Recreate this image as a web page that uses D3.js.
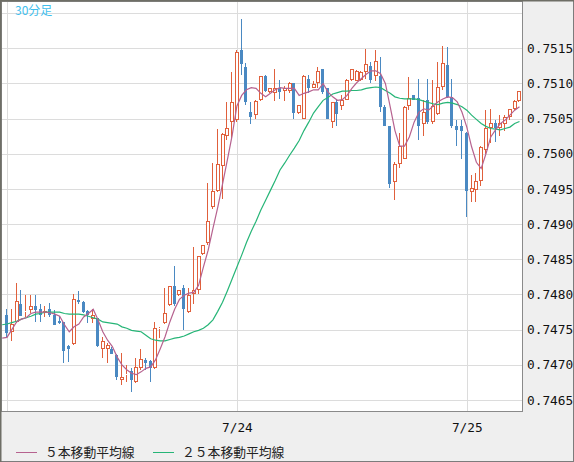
<html>
<script src="https://d3js.org/d3.v7.min.js"></script>
<body style="margin:0; background:#efefef;">
<svg width=574 height=462></svg>
<script>
// 30-minute candles, 7/23 - 7/25 (slot 1 = first full candle)
var opens = [
  0.74771, 0.74747, 0.74761, 0.74786, 0.74775, 0.74778, 0.74784, 0.74780, 0.74774, 0.74779,
  0.74771, 0.74763, 0.74761, 0.74727, 0.74729, 0.74792, 0.74790, 0.74777, 0.74765, 0.74766,
  0.74723, 0.74723, 0.74723, 0.74714, 0.74679, 0.74686, 0.74691, 0.74675, 0.74696, 0.74707,
  0.74706, 0.74695, 0.74752, 0.74759, 0.74785, 0.74812, 0.74799, 0.74809, 0.74775, 0.74801,
  0.74806, 0.74857, 0.74873, 0.74925, 0.74947, 0.74982, 0.75026, 0.75045, 0.75048, 0.75147,
  0.75123, 0.75059, 0.75055, 0.75076, 0.75111, 0.75088, 0.75086, 0.75093, 0.75089, 0.75090,
  0.75100, 0.75058, 0.75050, 0.75106, 0.75094, 0.75100, 0.75120, 0.75093, 0.75045, 0.75073,
  0.75068, 0.75077, 0.75105, 0.75104, 0.75105, 0.75117, 0.75125, 0.75110, 0.75110, 0.75067,
  0.75039, 0.74960, 0.74985, 0.74993, 0.75068, 0.75083, 0.75080, 0.75042, 0.75076, 0.75045,
  0.75057, 0.75095, 0.75126, 0.75081, 0.75040, 0.75039, 0.75030, 0.74946, 0.74949, 0.74962,
  0.75006, 0.75037, 0.75044, 0.75037, 0.75043, 0.75053, 0.75063, 0.75075];
var highs = [
  0.74779, 0.74780, 0.74817, 0.74806, 0.74799, 0.74799, 0.74799, 0.74787, 0.74783, 0.74788,
  0.74778, 0.74769, 0.74761, 0.74728, 0.74800, 0.74805, 0.74791, 0.74778, 0.74779, 0.74767,
  0.74739, 0.74731, 0.74725, 0.74716, 0.74717, 0.74700, 0.74696, 0.74709, 0.74723, 0.74709,
  0.74707, 0.74761, 0.74754, 0.74809, 0.74812, 0.74840, 0.74807, 0.74813, 0.74809, 0.74867,
  0.74855, 0.74870, 0.74959, 0.74987, 0.75035, 0.75029, 0.75074, 0.75116, 0.75147, 0.75192,
  0.75129, 0.75074, 0.75076, 0.75110, 0.75112, 0.75094, 0.75121, 0.75105, 0.75097, 0.75102,
  0.75101, 0.75070, 0.75112, 0.75112, 0.75104, 0.75123, 0.75121, 0.75094, 0.75074, 0.75078,
  0.75084, 0.75106, 0.75121, 0.75119, 0.75118, 0.75149, 0.75130, 0.75147, 0.75138, 0.75069,
  0.75040, 0.74988, 0.75029, 0.75068, 0.75109, 0.75084, 0.75107, 0.75076, 0.75107, 0.75105,
  0.75130, 0.75153, 0.75152, 0.75107, 0.75048, 0.75048, 0.75031, 0.74970, 0.74973, 0.75011,
  0.75062, 0.75063, 0.75048, 0.75055, 0.75055, 0.75064, 0.75076, 0.75090];
var lows = [
  0.74740, 0.74734, 0.74759, 0.74769, 0.74768, 0.74773, 0.74761, 0.74761, 0.74768, 0.74768,
  0.74756, 0.74758, 0.74703, 0.74704, 0.74728, 0.74787, 0.74774, 0.74759, 0.74760, 0.74726,
  0.74710, 0.74702, 0.74715, 0.74678, 0.74672, 0.74675, 0.74662, 0.74674, 0.74693, 0.74693,
  0.74676, 0.74694, 0.74738, 0.74758, 0.74784, 0.74784, 0.74798, 0.74750, 0.74773, 0.74787,
  0.74801, 0.74856, 0.74870, 0.74922, 0.74945, 0.74936, 0.75020, 0.75022, 0.75045, 0.75112,
  0.75070, 0.75042, 0.75049, 0.75075, 0.75088, 0.75086, 0.75075, 0.75078, 0.75075, 0.75086,
  0.75049, 0.75057, 0.75049, 0.75086, 0.75093, 0.75093, 0.75085, 0.75049, 0.75036, 0.75040,
  0.75062, 0.75076, 0.75104, 0.75103, 0.75103, 0.75107, 0.75100, 0.75104, 0.75059, 0.75039,
  0.74951, 0.74935, 0.74980, 0.74992, 0.75062, 0.75076, 0.75019, 0.75025, 0.75042, 0.75042,
  0.75055, 0.75091, 0.75079, 0.75037, 0.75011, 0.74993, 0.74910, 0.74932, 0.74932, 0.74954,
  0.75000, 0.75015, 0.75017, 0.75025, 0.75033, 0.75048, 0.75062, 0.75074];
var closes = [
  0.74745, 0.74758, 0.74791, 0.74770, 0.74776, 0.74783, 0.74778, 0.74771, 0.74777, 0.74771,
  0.74757, 0.74759, 0.74720, 0.74722, 0.74793, 0.74790, 0.74775, 0.74771, 0.74771, 0.74727,
  0.74734, 0.74728, 0.74716, 0.74682, 0.74683, 0.74687, 0.74679, 0.74697, 0.74708, 0.74702,
  0.74695, 0.74753, 0.74753, 0.74774, 0.74812, 0.74787, 0.74806, 0.74779, 0.74799, 0.74806,
  0.74855, 0.74870, 0.74905, 0.74947, 0.74985, 0.75028, 0.75037, 0.75074, 0.75145, 0.75128,
  0.75073, 0.75053, 0.75075, 0.75110, 0.75089, 0.75093, 0.75094, 0.75088, 0.75094, 0.75100,
  0.75058, 0.75070, 0.75111, 0.75094, 0.75099, 0.75118, 0.75088, 0.75050, 0.75073, 0.75057,
  0.75077, 0.75105, 0.75120, 0.75118, 0.75117, 0.75128, 0.75105, 0.75132, 0.75067, 0.75040,
  0.74957, 0.74985, 0.75011, 0.75067, 0.75080, 0.75077, 0.75040, 0.75060, 0.75045, 0.75068,
  0.75095, 0.75129, 0.75081, 0.75040, 0.75034, 0.75033, 0.74947, 0.74951, 0.74961, 0.75010,
  0.75037, 0.75044, 0.75037, 0.75044, 0.75053, 0.75063, 0.75075, 0.75089];

// moving averages, slot 0 .. 108
var ma5 = [
  0.74738, 0.74739, 0.74750, 0.74761, 0.74765, 0.74767, 0.74773, 0.74775, 0.74775, 0.74775, 0.74774,
  0.74772, 0.74769, 0.74757, 0.74747, 0.74754, 0.74758, 0.74768, 0.74773, 0.74779, 0.74764,
  0.74747, 0.74735, 0.74726, 0.74711, 0.74700, 0.74693, 0.74688, 0.74686, 0.74690, 0.74695,
  0.74697, 0.74707, 0.74723, 0.74740, 0.74761, 0.74779, 0.74793, 0.74799, 0.74802, 0.74803,
  0.74813, 0.74839, 0.74863, 0.74894, 0.74924, 0.74957, 0.74991, 0.75026, 0.75068, 0.75083,
  0.75091, 0.75094, 0.75093, 0.75086, 0.75081, 0.75086, 0.75091, 0.75094, 0.75093, 0.75093,
  0.75093, 0.75083, 0.75086, 0.75088, 0.75091, 0.75091, 0.75100, 0.75088, 0.75081, 0.75076,
  0.75077, 0.75083, 0.75093, 0.75101, 0.75107, 0.75113, 0.75118, 0.75118, 0.75114, 0.75100,
  0.75067, 0.75033, 0.75011, 0.75011, 0.75024, 0.75045, 0.75059, 0.75064, 0.75062, 0.75068,
  0.75074, 0.75078, 0.75081, 0.75080, 0.75074, 0.75059, 0.75038, 0.75010, 0.74988, 0.74979,
  0.75000, 0.75024, 0.75034, 0.75043, 0.75048, 0.75055, 0.75062, 0.75067];
var ma25 = [
  0.74757, 0.74758, 0.74760, 0.74762, 0.74765, 0.74767, 0.74769, 0.74772, 0.74773, 0.74775, 0.74775,
  0.74775, 0.74775, 0.74773, 0.74772, 0.74772, 0.74772, 0.74771, 0.74769, 0.74767, 0.74765,
  0.74761, 0.74760, 0.74759, 0.74758, 0.74754, 0.74752, 0.74749, 0.74748, 0.74747, 0.74742,
  0.74737, 0.74735, 0.74734, 0.74734, 0.74736, 0.74738, 0.74739, 0.74741, 0.74744, 0.74747,
  0.74749, 0.74752, 0.74757, 0.74764, 0.74776, 0.74789, 0.74805, 0.74822, 0.74839, 0.74856,
  0.74874, 0.74890, 0.74904, 0.74920, 0.74934, 0.74948, 0.74962, 0.74977, 0.74987, 0.74998,
  0.75008, 0.75019, 0.75033, 0.75045, 0.75058, 0.75067, 0.75076, 0.75080, 0.75085, 0.75087,
  0.75089, 0.75089, 0.75090, 0.75090, 0.75091, 0.75093, 0.75094, 0.75095, 0.75094, 0.75090,
  0.75086, 0.75081, 0.75079, 0.75078, 0.75078, 0.75078, 0.75077, 0.75075, 0.75073, 0.75071,
  0.75070, 0.75072, 0.75073, 0.75072, 0.75070, 0.75067, 0.75062, 0.75055, 0.75049, 0.75043,
  0.75039, 0.75036, 0.75035, 0.75034, 0.75036, 0.75038, 0.75043, 0.75046];

var gridPrices = [0.7465, 0.7470, 0.7475, 0.7480, 0.7485, 0.7490, 0.7495, 0.7500, 0.7505, 0.7510, 0.7515, 0.7520];
var priceLabels = ["0.7465", "0.7470", "0.7475", "0.7480", "0.7485", "0.7490", "0.7495", "0.7500", "0.7505", "0.7510", "0.7515"];
var daySlots = [1, 49, 97];
var dayLabels = ["", "7/24", "7/25"];
var legendNames = ["５本移動平均線", "２５本移動平均線"];

//------------------------setup------------------------//
var svg = d3.select("svg");
var plot = {left: 1, top: 1, right: 523, bottom: 412};
var upColor = "#e0603c", downColor = "#4a89c2", ma5Color = "#b6628f", ma25Color = "#26b577";
var mono = "'DejaVu Sans Mono', monospace";
var jp = "'Noto Sans CJK JP', sans-serif";

var x = d3.scaleLinear().domain([1, 97]).range([7, 466.8]);
var y = d3.scaleLinear().domain([0.7465, 0.7515]).range([400, 48.3]);

svg.append("rect").attr("x", 0.5).attr("y", 0.5).attr("width", 573).attr("height", 461)
  .attr("fill", "#efefef").attr("stroke", "#7c7c7c");
svg.append("rect").attr("x", plot.left).attr("y", plot.top)
  .attr("width", plot.right - plot.left).attr("height", plot.bottom - plot.top)
  .attr("fill", "#fff");

svg.append("clipPath").attr("id", "clip").append("rect")
  .attr("x", plot.left).attr("y", plot.top)
  .attr("width", plot.right - plot.left).attr("height", plot.bottom - plot.top);

var g = svg.append("g").attr("clip-path", "url(#clip)");

//------------------------grid------------------------//
g.append("g").selectAll("line").data(gridPrices).enter().append("line")
  .attr("x1", plot.left).attr("x2", plot.right)
  .attr("y1", function(d) { return Math.round(y(d)) + 0.5; })
  .attr("y2", function(d) { return Math.round(y(d)) + 0.5; })
  .attr("stroke", "#dcdcdc");
g.append("g").selectAll("line").data(daySlots).enter().append("line")
  .attr("y1", plot.top).attr("y2", plot.bottom)
  .attr("x1", function(d) { return Math.round(x(d)) + 0.5; })
  .attr("x2", function(d) { return Math.round(x(d)) + 0.5; })
  .attr("stroke", "#dcdcdc");

//------------------------candles------------------------//
var candles = opens.map(function(o, i) {
  return {slot: i + 1, o: o, h: highs[i], l: lows[i], c: closes[i]};
});

var cg = g.append("g").attr("shape-rendering", "crispEdges");
candles.forEach(function(d) {
  var cx = Math.round(x(d.slot));
  var up = d.c >= d.o;
  var top = Math.round(y(Math.max(d.o, d.c))), bot = Math.round(y(Math.min(d.o, d.c)));
  if (bot - top < 1) bot = top + 1;
  if (up) {
    cg.append("line").attr("x1", cx - 0.5).attr("x2", cx - 0.5)
      .attr("y1", Math.round(y(d.h))).attr("y2", top).attr("stroke", upColor);
    cg.append("line").attr("x1", cx - 0.5).attr("x2", cx - 0.5)
      .attr("y1", bot).attr("y2", Math.round(y(d.l))).attr("stroke", upColor);
    cg.append("rect").attr("x", cx - 1.5).attr("y", top + 0.5)
      .attr("width", 3).attr("height", Math.max(bot - top - 1, 0))
      .attr("fill", "#fff").attr("stroke", upColor);
  } else {
    cg.append("line").attr("x1", cx - 0.5).attr("x2", cx - 0.5)
      .attr("y1", Math.round(y(d.h))).attr("y2", Math.round(y(d.l))).attr("stroke", downColor);
    cg.append("rect").attr("x", cx - 2).attr("y", top)
      .attr("width", 3).attr("height", bot - top).attr("fill", downColor);
  }
});

//------------------------moving averages------------------------//
var line = d3.line()
  .x(function(d, i) { return x(i); })
  .y(function(d) { return y(d); });

g.append("path").datum(ma25).attr("d", line)
  .attr("fill", "none").attr("stroke", ma25Color).attr("stroke-width", 1.2);
g.append("path").datum(ma5).attr("d", line)
  .attr("fill", "none").attr("stroke", ma5Color).attr("stroke-width", 1.2);

// plot frame
svg.append("rect").attr("x", plot.left + 0.5).attr("y", plot.top + 0.5)
  .attr("width", plot.right - plot.left - 1).attr("height", plot.bottom - plot.top - 1)
  .attr("fill", "none").attr("stroke", "#8a8a8a");
svg.append("path").attr("d", "M0.5,462V0.5H574").attr("fill", "none")
  .attr("stroke", "#6e6e66").attr("stroke-width", 2);

//------------------------labels------------------------//
svg.append("text").attr("x", 15).attr("y", 15)
  .style("font-family", jp).style("font-size", "12px").attr("fill", "#3fbfee")
  .text("30分足");

svg.append("g").selectAll("text").data(priceLabels).enter().append("text")
  .attr("x", 527).attr("y", function(d) { return y(+d); })
  .attr("dy", "0.36em")
  .style("font-family", mono).style("font-size", "12.8px").attr("fill", "#111")
  .text(function(d) { return d; });

svg.append("g").selectAll("text").data(daySlots).enter().append("text")
  .attr("x", function(d) { return x(d) + 0.5; }).attr("y", 427)
  .attr("dy", "0.36em").attr("text-anchor", "middle")
  .style("font-family", mono).style("font-size", "12.8px").attr("fill", "#111")
  .text(function(d, i) { return dayLabels[i]; });

//------------------------legend------------------------//
var legendX = [16, 153];
var legendColors = [ma5Color, ma25Color];
legendNames.forEach(function(name, i) {
  svg.append("line").attr("x1", legendX[i]).attr("x2", legendX[i] + 21)
    .attr("y1", 452.5).attr("y2", 452.5).attr("stroke", legendColors[i]);
  svg.append("text").attr("x", legendX[i] + 29).attr("y", 452).attr("dy", "0.36em")
    .style("font-family", jp).style("font-size", "12.8px").attr("fill", "#222")
    .text(name);
});
</script>
</body>
</html>
